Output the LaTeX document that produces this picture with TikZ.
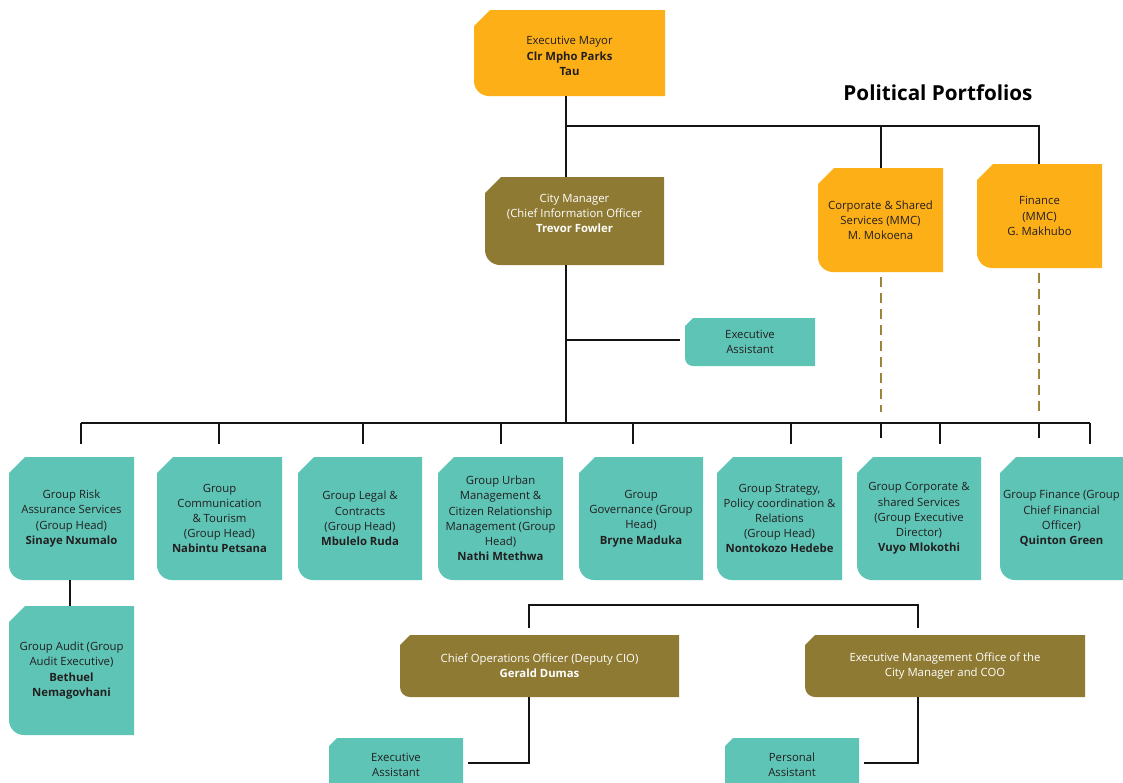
\documentclass[tikz,border=0pt]{standalone}
\usepackage{fontspec}
\setmainfont{Open Sans}
\usetikzlibrary{calc}
\definecolor{orgOrange}{RGB}{252,175,23}
\definecolor{orgOlive}{RGB}{143,122,51}
\definecolor{orgTeal}{RGB}{94,196,182}
\definecolor{txtDark}{RGB}{35,31,32}
\definecolor{lineDark}{RGB}{20,20,20}
\definecolor{dashOlive}{RGB}{154,133,64}
\tikzset{
 orangebox/.style={fill=orgOrange, text=txtDark},
 olivebox/.style={fill=orgOlive, text=white},
 tealbox/.style={fill=orgTeal, text=txtDark},
 conn/.style={draw=lineDark, line width=1.8pt},
 dotline/.style={draw=dashOlive, line width=1.8pt, dash pattern=on 7.5pt off 4.5pt},
 boxtext/.style={font=\fontsize{8.5}{11.4}\selectfont, align=center, inner sep=0pt},
}
\newcommand\boxfill[7]{%
 \fill[#5] ({#1},{#2+#6}) -- ({#1+#6},{#2}) -- ({#3},{#2}) -- ({#3},{#4}) -- ({#1+#7},{#4}) arc[start angle=270, end angle=180, radius={#7*0.75pt}] -- cycle;
}
\newcommand\orgbox[9]{%
 \boxfill{#2}{#3}{#4}{#5}{#6}{#7}{#8}
 \node[#6, fill=none, boxtext, minimum width={(#4-#2)*0.75pt}, minimum height={(#5-#3)*0.75pt}] (#1) at ({(#2+#4)/2},{(#3+#5)/2}) {#9};
}
\begin{document}
\begin{tikzpicture}[x=0.75pt,y=-0.75pt]
\clip (0,0) rectangle (1123,782);
\fill[white] (0,0) rectangle (1123,782);
% boxes
\boxfill{474}{10}{665}{96}{orangebox}{16}{15}
\node[orangebox, fill=none, boxtext, minimum width={191*0.75pt}, minimum height={80*0.75pt}] (mayor) at (569.5,56) {Executive Mayor\\\textbf{Clr Mpho Parks}\\\textbf{Tau}};
\orgbox{cm}{485}{177}{664}{265}{olivebox}{16}{15}{City Manager\\(Chief Information Officer\\\textbf{Trevor Fowler}\\}
\orgbox{mmcA}{818}{168}{943}{272}{orangebox}{16}{15}{Corporate \& Shared\\Services (MMC)\\M. Mokoena}
\orgbox{mmcB}{977}{164}{1102}{268}{orangebox}{16}{15}{Finance\\(MMC)\\G. Makhubo}
\orgbox{eaA}{685}{318}{815}{366}{tealbox}{8}{8}{Executive\\Assistant}
\orgbox{gA}{9}{457}{134}{580}{tealbox}{16}{15}{Group Risk\\Assurance Services\\(Group Head)\\\textbf{Sinaye Nxumalo}}
\orgbox{gB}{157}{457}{282}{580}{tealbox}{16}{15}{Group\\Communication\\\& Tourism\\(Group Head)\\\textbf{Nabintu Petsana}}
\orgbox{gC}{298}{457}{422}{580}{tealbox}{16}{15}{Group Legal \&\\Contracts\\(Group Head)\\\textbf{Mbulelo Ruda}}
\orgbox{gD}{438}{457}{563}{580}{tealbox}{16}{15}{Group Urban\\Management \&\\Citizen Relationship\\Management (Group\\Head)\\\textbf{Nathi Mtethwa}}
\orgbox{gE}{579}{457}{703}{580}{tealbox}{16}{15}{Group\\Governance (Group\\Head)\\\textbf{Bryne Maduka}}
\orgbox{gF}{717}{457}{842}{580}{tealbox}{16}{15}{Group Strategy,\\Policy coordination \&\\Relations\\(Group Head)\\\textbf{Nontokozo Hedebe}}
\orgbox{gG}{857}{457}{981}{580}{tealbox}{16}{15}{Group Corporate \&\\shared Services\\(Group Executive\\Director)\\\textbf{Vuyo Mlokothi}}
\orgbox{gH}{1000}{457}{1123}{580}{tealbox}{16}{15}{Group Finance (Group\\Chief Financial\\Officer)\\\textbf{Quinton Green}}
\orgbox{audit}{9}{606}{134}{735}{tealbox}{16}{15}{Group Audit (Group\\Audit Executive)\\\textbf{Bethuel}\\\textbf{Nemagovhani}}
\orgbox{coo}{400}{635}{679}{697}{olivebox}{10}{10}{Chief Operations Officer (Deputy CIO)\\\textbf{Gerald Dumas}}
\orgbox{emo}{805}{635}{1085}{697}{olivebox}{10}{10}{Executive Management Office of the\\City Manager and COO}
\orgbox{eaB}{329}{738}{463}{791}{tealbox}{8}{8}{Executive\\Assistant}
\orgbox{pa}{725}{738}{859}{791}{tealbox}{8}{8}{Personal\\Assistant}
\node[font=\bfseries\fontsize{15.5}{18}\selectfont, text=black, inner sep=0pt] (pp) at (938,93) {Political Portfolios};
% junction coordinates
\coordinate (j1) at (566,126);
\coordinate (j2) at (566,423);
\coordinate (ja) at (566,340);
\coordinate (t1) at (81,423);
\coordinate (t2) at (219,423);
\coordinate (t3) at (363,423);
\coordinate (t4) at (501,423);
\coordinate (t5) at (633,423);
\coordinate (t6) at (791,423);
\coordinate (t7) at (881,423);
\coordinate (t8) at (940,423);
\coordinate (t9) at (1039,423);
\coordinate (t10) at (1090,423);
\coordinate (c1) at (529,605);
\coordinate (c2) at (918,605);
\coordinate (c3) at (529,763);
\coordinate (c4) at (918,763);
% connectors
\draw[conn] (j1 |- mayor.south) -- (j1 |- cm.north);
\draw[conn] (j1) -- (j1 -| t9) -- (t9 |- mmcB.north);
\draw[conn] (j1 -| t7) -- (t7 |- mmcA.north);
\draw[conn] (j1 |- cm.south) -- (j2);
\draw[conn, shorten >=3.75pt] (ja) -- (ja -| eaA.west);
\draw[conn] (t1) -- (t10);
\foreach \t/\g in {t1/gA,t2/gB,t3/gC,t4/gD,t5/gE,t6/gF,t8/gG,t10/gH}
  \draw[conn, shorten >=9.75pt] (\t) -- (\t |- \g.north);
\draw[conn, shorten >=14.25pt] (t7) -- (t7 |- gG.north);
\draw[conn, shorten >=14.25pt] (t9) -- (t9 |- gH.north);
\draw[dotline, shorten <=3.75pt, shorten >=8.25pt] (t7 |- mmcA.south) -- (t7);
\draw[dotline, shorten <=3.75pt, shorten >=8.25pt] (t9 |- mmcB.south) -- (t9);
\draw[conn] (gA.south -| 70,0) -- (audit.north -| 70,0);
\draw[conn, shorten <=5.25pt, shorten >=5.25pt] (c1 |- coo.north) -- (c1) -- (c2) -- (c2 |- emo.north);
\draw[conn, shorten >=3.75pt] (c1 |- coo.south) -- (c3) -- (c3 -| eaB.east);
\draw[conn, shorten >=3.75pt] (c2 |- emo.south) -- (c4) -- (c4 -| pa.east);
\end{tikzpicture}
\end{document}
